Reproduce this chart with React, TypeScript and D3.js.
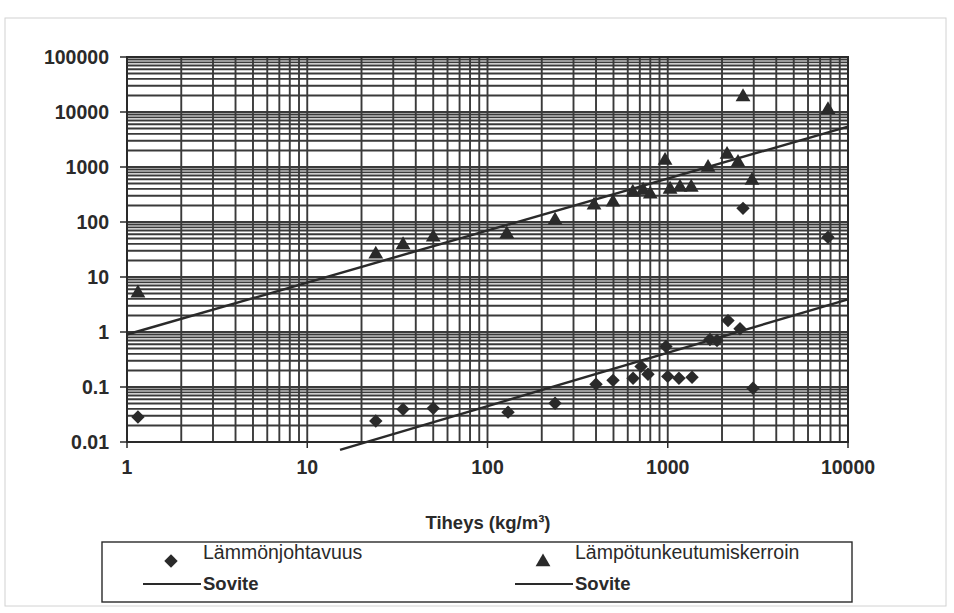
import React from "react";
import * as d3 from "d3";

// Lämpötunkeutumiskerroin (triangles)
const triX = [1.15, 24, 34, 50, 128, 237, 390, 497, 640, 730, 800, 966, 1030, 1170, 1350, 1673, 2133, 2453, 2616, 2933, 7745];
const triY = [5.3, 27, 40, 55, 63, 112, 210, 238, 360, 392, 332, 1367, 408, 444, 444, 1021, 1754, 1257, 19630, 594, 11430];

// Lämmönjohtavuus (diamonds)
const diaX = [1.15, 24, 34, 50, 130, 237, 400, 497, 642, 711, 777, 977, 1000, 1154, 1364, 1715, 1876, 2159, 2517, 2616, 2972, 7745];
const diaY = [0.0285, 0.024, 0.0395, 0.0412, 0.0349, 0.0507, 0.112, 0.132, 0.144, 0.237, 0.17, 0.545, 0.156, 0.144, 0.15, 0.729, 0.699, 1.61, 1.15, 177, 0.0947, 53];

// power-law fits  y = a * x^b  ("Sovite")
const fitA = [0.000513, 0.9];
const fitB = [0.971, 0.945];
const fitFrom = [15.2, 1];
const fitTo = [10000, 10000];

const xTicks = [1, 10, 100, 1000, 10000];
const xTickLabels = ["1", "10", "100", "1000", "10000"];
const yTicks = [0.01, 0.1, 1, 10, 100, 1000, 10000, 100000];
const yTickLabels = ["0.01", "0.1", "1", "10", "100", "1000", "10000", "100000"];

const xTitle = "Tiheys (kg/m³)";
const seriesNames = ["Lämmönjohtavuus", "Lämpötunkeutumiskerroin"];
const fitName = "Sovite";

const W = 954, H = 613;
const plot = { left: 127, right: 848, top: 57, bottom: 442 };
const ink = "#2a2a2a";
const gridInk = "#3a3a3a";
const font = "'Liberation Sans', Arial, sans-serif";

export default function App() {
  const x = d3.scaleLog().domain([1, 10000]).range([plot.left, plot.right]);
  const y = d3.scaleLog().domain([0.01, 100000]).range([plot.bottom, plot.top]);

  // minor grid values 1..9 per decade
  const gridX: number[] = [];
  for (let d = 0; d < 4; d++) for (let k = 1; k <= 9; k++) gridX.push(k * Math.pow(10, d));
  gridX.push(10000);
  const gridY: number[] = [];
  for (let d = -2; d < 5; d++) for (let k = 1; k <= 9; k++) gridY.push(k * Math.pow(10, d));
  gridY.push(100000);

  const fitPath = (s: number) => {
    const pts: [number, number][] = [fitFrom[s], fitTo[s]].map(v => [x(v), y(fitA[s] * Math.pow(v, fitB[s]))]);
    return d3.line()(pts) || "";
  };

  const diamond = d3.symbol().type(d3.symbolDiamond2 || d3.symbolDiamond).size(115)() || "";
  const triangle = d3.symbol().type(d3.symbolTriangle).size(95)() || "";

  const legX = 102, legY = 542, legW = 750, legH = 60, colOff = 372;

  return (
    <svg width={W} height={H} style={{ position: "absolute", left: 0, top: 0, background: "#fff" }} fontFamily={font}>
      {/* faint outer frame */}
      <rect x={5} y={18} width={941} height={588} fill="none" stroke="#d2d2d2" strokeWidth={1} />

      {/* grid */}
      <g stroke={gridInk} strokeWidth={1.9}>
        {gridX.map((v, i) => (
          <line key={"gx" + i} x1={x(v)} x2={x(v)} y1={plot.top} y2={plot.bottom} />
        ))}
        {gridY.map((v, i) => (
          <line key={"gy" + i} x1={plot.left} x2={plot.right} y1={y(v)} y2={y(v)} />
        ))}
      </g>
      <rect x={plot.left} y={plot.top} width={plot.right - plot.left} height={plot.bottom - plot.top}
        fill="none" stroke={ink} strokeWidth={2} />

      {/* axes ticks and labels */}
      <g fill={ink} fontSize={19.5} fontWeight="bold">
        {yTicks.map((v, i) => (
          <g key={"yt" + i}>
            <line x1={plot.left - 7} x2={plot.left} y1={y(v)} y2={y(v)} stroke={ink} strokeWidth={1.5} />
            <text x={plot.left - 18} y={y(v)} dy="0.35em" textAnchor="end">{yTickLabels[i]}</text>
          </g>
        ))}
        {xTicks.map((v, i) => (
          <g key={"xt" + i}>
            <line x1={x(v)} x2={x(v)} y1={plot.bottom} y2={plot.bottom + 6} stroke={ink} strokeWidth={1.5} />
            <text x={x(v)} y={plot.bottom + 32} textAnchor="middle">{xTickLabels[i]}</text>
          </g>
        ))}
      </g>
      <text x={488} y={529} textAnchor="middle" fontSize={18.5} fontWeight="bold" fill={ink}>{xTitle}</text>

      {/* fits */}
      {[0, 1].map(s => (
        <path key={"fit" + s} d={fitPath(s)} fill="none" stroke={ink} strokeWidth={2.4} />
      ))}

      {/* points */}
      <g fill={ink}>
        {diaX.map((v, i) => (
          <path key={"d" + i} d={diamond} transform={`translate(${x(v)},${y(diaY[i])})`} />
        ))}
        {triX.map((v, i) => (
          <path key={"t" + i} d={triangle} transform={`translate(${x(v)},${y(triY[i]) + 1})`} />
        ))}
      </g>

      {/* legend */}
      <rect x={legX} y={legY} width={legW} height={legH} fill="none" stroke={ink} strokeWidth={1.4} />
      {[0, 1].map(s => (
        <g key={"leg" + s} transform={`translate(${s * colOff},0)`} fill={ink}>
          <path d={s === 0 ? diamond : triangle} transform={`translate(171,${s === 0 ? 561 : 562})`} />
          <text x={203} y={559} fontSize={19.5}>{seriesNames[s]}</text>
          <line x1={143} x2={201} y1={584} y2={584} stroke={ink} strokeWidth={2} />
          <text x={203} y={590} fontSize={18.5} fontWeight="bold">{fitName}</text>
        </g>
      ))}
    </svg>
  );
}
